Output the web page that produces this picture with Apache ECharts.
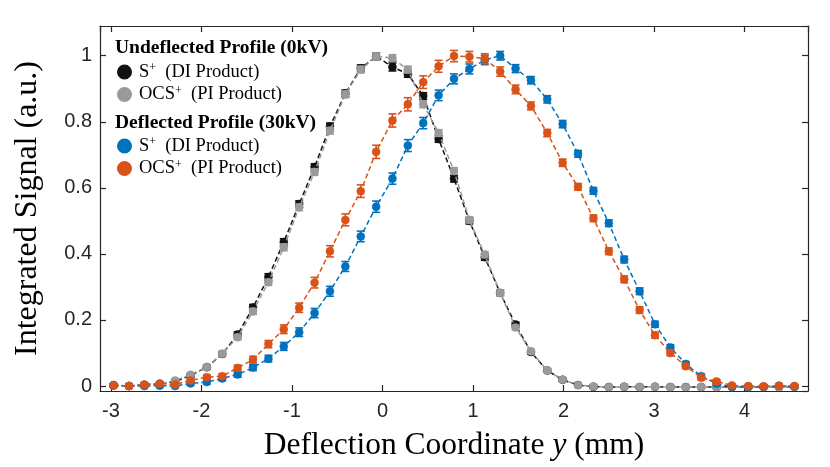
<!DOCTYPE html>
<html>
<head>
<meta charset="utf-8">
<script src="https://cdn.jsdelivr.net/npm/echarts@6/dist/echarts.min.js"></script>
<style>html,body{margin:0;padding:0;background:#fff}#c{width:830px;height:467px}</style>
</head>
<body>
<div id="c"></div>
<script>
// Deflection coordinate y (mm) of each sample
const xs = [-2.97,-2.80,-2.63,-2.46,-2.29,-2.12,-1.94,-1.77,-1.60,-1.43,-1.26,-1.09,-0.92,-0.75,-0.58,-0.41,-0.24,-0.07,0.11,0.28,0.45,0.62,0.79,0.96,1.13,1.30,1.47,1.64,1.82,1.99,2.16,2.33,2.50,2.67,2.84,3.01,3.18,3.35,3.52,3.69,3.86,4.04,4.21,4.38,4.55];

// Undeflected profile (0 kV)
const undefS   = [0.002,0.000,0.004,0.007,0.013,0.032,0.057,0.097,0.156,0.238,0.330,0.436,0.551,0.663,0.786,0.886,0.962,0.998,0.966,0.945,0.878,0.748,0.628,0.500,0.390,0.282,0.186,0.103,0.047,0.019,0.003,-0.002,-0.003,-0.002,-0.003,-0.002,-0.003,-0.003,-0.003,-0.003,-0.002,-0.003,-0.002,-0.003,-0.002];
const undefOCS = [0.002,0.000,0.004,0.007,0.017,0.034,0.058,0.098,0.148,0.226,0.314,0.420,0.541,0.648,0.773,0.883,0.958,0.998,0.993,0.958,0.853,0.766,0.651,0.503,0.398,0.282,0.177,0.105,0.047,0.019,0.003,-0.001,-0.003,-0.002,-0.003,-0.002,-0.003,-0.003,-0.003,-0.003,-0.003,-0.003,-0.002,-0.003,-0.002];
// Deflected profile (30 kV)
const defS     = [0.003,0.000,0.000,0.001,0.000,0.008,0.012,0.023,0.035,0.056,0.083,0.120,0.163,0.221,0.287,0.362,0.453,0.543,0.628,0.728,0.796,0.880,0.930,0.960,0.987,1.000,0.961,0.926,0.868,0.793,0.703,0.591,0.493,0.383,0.287,0.187,0.117,0.067,0.030,0.007,-0.002,-0.002,-0.003,0.001,-0.001];
const defOCS   = [0.002,0.000,0.004,0.007,0.005,0.017,0.027,0.030,0.055,0.080,0.127,0.172,0.237,0.313,0.408,0.503,0.590,0.709,0.804,0.853,0.920,0.968,0.999,0.997,0.991,0.952,0.898,0.848,0.766,0.676,0.603,0.508,0.408,0.323,0.230,0.154,0.100,0.060,0.025,0.014,0.002,0.000,-0.001,0.001,0.000];

// Error bar half-heights
const errUndefS   = [0.004,0.004,0.004,0.004,0.005,0.005,0.006,0.007,0.008,0.009,0.010,0.010,0.010,0.010,0.010,0.010,0.010,0.010,0.012,0.010,0.010,0.010,0.010,0.009,0.009,0.008,0.007,0.006,0.005,0.005,0.004,0.004,0.004,0.004,0.004,0.004,0.004,0.004,0.004,0.004,0.004,0.004,0.004,0.004,0.004];
const errUndefOCS = [0.004,0.004,0.004,0.004,0.005,0.005,0.006,0.007,0.008,0.009,0.009,0.010,0.010,0.010,0.010,0.010,0.010,0.010,0.010,0.010,0.010,0.010,0.010,0.009,0.009,0.008,0.007,0.006,0.005,0.005,0.004,0.004,0.004,0.004,0.004,0.004,0.004,0.004,0.004,0.004,0.004,0.004,0.004,0.004,0.004];
const errDefS     = [0.004,0.004,0.004,0.004,0.004,0.005,0.006,0.007,0.008,0.009,0.010,0.012,0.013,0.014,0.015,0.015,0.016,0.017,0.017,0.018,0.017,0.016,0.015,0.015,0.014,0.013,0.012,0.011,0.011,0.011,0.010,0.010,0.010,0.010,0.010,0.009,0.008,0.007,0.006,0.005,0.004,0.004,0.004,0.004,0.004];
const errDefOCS   = [0.004,0.004,0.004,0.004,0.004,0.005,0.006,0.007,0.008,0.010,0.011,0.013,0.014,0.016,0.017,0.018,0.019,0.020,0.020,0.020,0.019,0.018,0.017,0.016,0.015,0.014,0.013,0.012,0.011,0.011,0.010,0.010,0.010,0.010,0.010,0.009,0.008,0.007,0.006,0.005,0.004,0.004,0.004,0.004,0.004];

const seriesNames = ['S0','OCS0','S30','OCS30'];
const seriesColors = ['#111111','#9a9a9a','#0072BD','#D95319'];
const legendText = {
  'S0':   '{m|S}{s|+}{m|  (DI Product)}',
  'OCS0': '{m|OCS}{s|+}{m|  (PI Product)}',
  'S30':  '{m|S}{s|+}{m|  (DI Product)}',
  'OCS30':'{m|OCS}{s|+}{m|  (PI Product)}'
};
const headers = ['Undeflected Profile (0kV)', 'Deflected Profile (30kV)'];
const yValues = [undefS, undefOCS, defS, defOCS];
const errValues = [errUndefS, errUndefOCS, errDefS, errDefOCS];

const SERIF = '"Liberation Serif", "Times New Roman", serif';
const SANS = '"Liberation Sans", Arial, sans-serif';
const AX = '#262626';

const chart = echarts.init(document.getElementById('c'), null, {renderer: 'canvas'});

const series = [];
seriesNames.forEach((name, i) => {
  const col = seriesColors[i];
  series.push({
    name: 'err' + name,
    type: 'custom',
    xAxisIndex: 0, yAxisIndex: 0,
    data: xs.map((x, k) => [x, yValues[i][k], errValues[i][k]]),
    z: 2 + i * 2,
    silent: true,
    renderItem: function (params, api) {
      const x = api.value(0), y = api.value(1), e = api.value(2);
      const top = api.coord([x, y + e]);
      const bot = api.coord([x, y - e]);
      const cw = 4;
      const st = {stroke: col, lineWidth: 1.6};
      return {type: 'group', children: [
        {type: 'line', shape: {x1: top[0], y1: top[1], x2: bot[0], y2: bot[1]}, style: st},
        {type: 'line', shape: {x1: top[0]-cw, y1: top[1], x2: top[0]+cw, y2: top[1]}, style: st},
        {type: 'line', shape: {x1: bot[0]-cw, y1: bot[1], x2: bot[0]+cw, y2: bot[1]}, style: st}
      ]};
    }
  });
  series.push({
    name: name,
    type: 'line',
    xAxisIndex: 0, yAxisIndex: 0,
    data: xs.map((x, k) => [x, yValues[i][k]]),
    z: 3 + i * 2,
    symbol: 'circle',
    symbolSize: 8,
    showAllSymbol: true,
    itemStyle: {color: col, borderColor: col, borderWidth: 0.5},
    lineStyle: {color: col, width: 1.5, type: [5, 3]},
    emphasis: {disabled: true},
    animation: false
  });
});

const legendCommon = {
  orient: 'vertical',
  left: 117,
  padding: 0,
  itemGap: 3,
  itemWidth: 13,
  itemHeight: 13,
  icon: 'circle',
  selectedMode: false,
  formatter: n => legendText[n],
  textStyle: {
    padding: [0, 0, 0, 3],
    rich: {
      m: {fontFamily: SERIF, fontSize: 18.5, color: '#000', lineHeight: 22},
      s: {fontFamily: SERIF, fontSize: 12, color: '#000', verticalAlign: 'top', padding: [1, 0, 0, 0]}
    }
  }
};

const option = {
  backgroundColor: '#fff',
  animation: false,
  grid: {left: 100, right: 22, top: 26, bottom: 74, containLabel: false},
  xAxis: [{
    type: 'value', min: -3.12, max: 4.7, splitNumber: 8, position: 'bottom',
    axisLine: {show: true, onZero: false, lineStyle: {color: AX, width: 1.2}},
    axisTick: {show: true, inside: true, length: 6, lineStyle: {color: AX, width: 1.2}},
    axisLabel: {show: true, showMinLabel: false, showMaxLabel: false, margin: 10, color: AX, fontFamily: SANS, fontSize: 20},
    splitLine: {show: false},
    name: 'Deflection Coordinate {i|y} (mm)',
    nameLocation: 'middle', nameGap: 39,
    nameTextStyle: {fontFamily: SERIF, fontSize: 31.5, color: '#000',
      rich: {i: {fontFamily: SERIF, fontSize: 31.5, fontStyle: 'italic', color: '#000'}}}
  }, {
    type: 'value', min: -3.12, max: 4.7, splitNumber: 8, position: 'top',
    axisLine: {show: true, onZero: false, lineStyle: {color: AX, width: 1.2}},
    axisTick: {show: true, inside: true, length: 6, lineStyle: {color: AX, width: 1.2}},
    axisLabel: {show: false}, splitLine: {show: false}
  }],
  yAxis: [{
    type: 'value', min: -0.015, max: 1.09, splitNumber: 5, position: 'left',
    axisLine: {show: true, onZero: false, lineStyle: {color: AX, width: 1.2}},
    axisTick: {show: true, inside: true, length: 6, lineStyle: {color: AX, width: 1.2}},
    axisLabel: {show: true, showMinLabel: false, showMaxLabel: false, margin: 8, color: AX, fontFamily: SANS, fontSize: 20},
    splitLine: {show: false},
    name: 'Integrated Signal (a.u.)',
    nameLocation: 'middle', nameGap: 56, nameRotate: 90,
    nameTextStyle: {fontFamily: SERIF, fontSize: 32, color: '#000'}
  }, {
    type: 'value', min: -0.015, max: 1.09, splitNumber: 5, position: 'right',
    axisLine: {show: true, onZero: false, lineStyle: {color: AX, width: 1.2}},
    axisTick: {show: true, inside: true, length: 6, lineStyle: {color: AX, width: 1.2}},
    axisLabel: {show: false}, splitLine: {show: false}
  }],
  legend: [
    Object.assign({}, legendCommon, {top: 62, data: ['S0', 'OCS0']}),
    Object.assign({}, legendCommon, {top: 136, data: ['S30', 'OCS30']})
  ],
  graphic: [
    {type: 'text', left: 115, top: 38, z: 100, style: {text: headers[0], font: 'bold 19.5px ' + SERIF, fill: '#000'}},
    {type: 'text', left: 115, top: 113, z: 100, style: {text: headers[1], font: 'bold 19.5px ' + SERIF, fill: '#000'}}
  ],
  series: series
};
chart.setOption(option);
</script>
</body>
</html>
